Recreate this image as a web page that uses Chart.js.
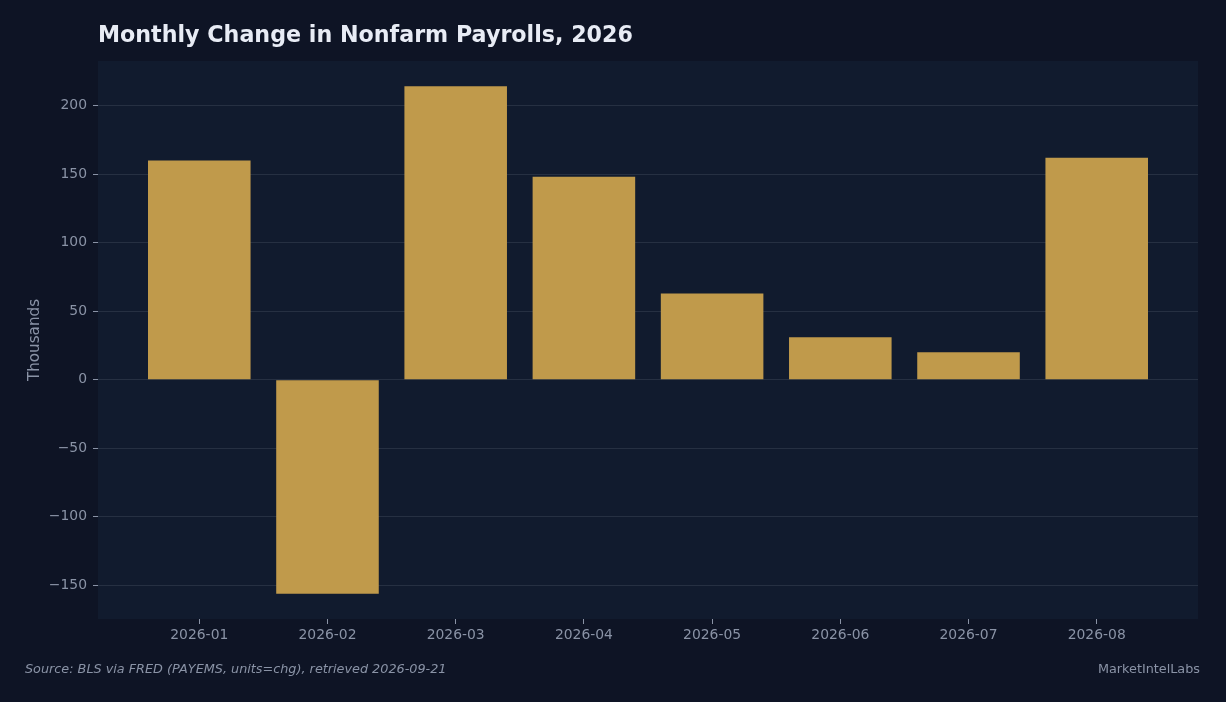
<!DOCTYPE html>
<html>
<head>
<meta charset="utf-8">
<script src="https://cdn.jsdelivr.net/npm/chart.js@4"></script>
<style>
  html, body { margin: 0; padding: 0; background: #0e1425; }
  #wrap { position: relative; width: 1226px; height: 702px; overflow: hidden; }
  #myChart { position: absolute; left: 0; top: 0; }
  .txt { position: absolute; font-family: "DejaVu Sans", sans-serif; white-space: nowrap; }
  #title { left: 98px; top: 21px; font-size: 22.2px; font-weight: bold; color: #e8ecf5; }
  #source { left: 25px; top: 661px; font-size: 12.8px; font-style: italic; color: #8a93a6; }
  #brand { right: 26px; top: 661px; font-size: 12.8px; color: #8a93a6; }
</style>
</head>
<body>
<div id="wrap">
  <canvas id="myChart" width="1226" height="702"></canvas>
  <div class="txt" id="title">Monthly Change in Nonfarm Payrolls, 2026</div>
  <div class="txt" id="source">Source: BLS via FRED (PAYEMS, units=chg), retrieved 2026-09-21</div>
  <div class="txt" id="brand">MarketIntelLabs</div>
</div>
<script>
const months = ['2026-01', '2026-02', '2026-03', '2026-04', '2026-05', '2026-06', '2026-07', '2026-08'];
const payrollChange = [160, -156, 214, 148, 63, 31, 20, 162];
const yTicks = [-150, -100, -50, 0, 50, 100, 150, 200];

// paint the plot area background behind bars
const plotBg = {
  id: 'plotBg',
  beforeDraw(chart) {
    const { ctx, chartArea } = chart;
    ctx.save();
    ctx.fillStyle = '#111b2e';
    ctx.fillRect(chartArea.left, chartArea.top, chartArea.right - chartArea.left, chartArea.bottom - chartArea.top);
    ctx.restore();
  }
};

function fmt(v) {
  return v < 0 ? '\u2212' + Math.abs(v) : String(v);
}

const ctx = document.getElementById('myChart').getContext('2d');
const myChart = new Chart(ctx, {
  type: 'bar',
  data: {
    datasets: [{
      label: 'Monthly change',
      data: months.map((m, i) => ({ x: i, y: payrollChange[i] })),
      backgroundColor: '#c09a4b',
      borderWidth: 0,
      inflateAmount: 0,
      barPercentage: 0.8,
      categoryPercentage: 1.0
    }]
  },
  options: {
    responsive: false,
    animation: false,
    layout: { padding: { left: 0, right: 28, top: 61, bottom: 0 } },
    plugins: { legend: { display: false }, title: { display: false }, tooltip: { enabled: false } },
    scales: {
      x: {
        type: 'linear',
        offset: false,
        min: -0.79,
        max: 7.79,
        afterBuildTicks(scale) { scale.ticks = months.map((_, i) => ({ value: i })); },
        afterFit(scale) { scale.height = 83; },
        grid: { offset: false, drawOnChartArea: false, drawTicks: true, tickLength: 5, tickColor: '#8a93a6' },
        border: { display: false },
        ticks: {
          color: '#8a93a6',
          font: { family: 'DejaVu Sans', size: 13.9 },
          padding: 3,
          maxRotation: 0,
          autoSkip: false,
          callback: (v) => months[v]
        }
      },
      y: {
        min: -174.5,
        max: 232.5,
        afterBuildTicks(scale) { scale.ticks = yTicks.map(v => ({ value: v })); },
        afterFit(scale) { scale.width = 98; },
        grid: { color: '#263042', lineWidth: 1, drawTicks: true, tickLength: 5, tickColor: '#8a93a6' },
        border: { display: false },
        title: {
          display: true,
          text: 'Thousands',
          color: '#8a93a6',
          font: { family: 'DejaVu Sans', size: 15.2 },
          padding: { top: 26, bottom: 0 }
        },
        ticks: {
          color: '#8a93a6',
          font: { family: 'DejaVu Sans', size: 13.9 },
          padding: 6,
          callback: (v) => fmt(v)
        }
      }
    }
  },
  plugins: [plotBg]
});
</script>
</body>
</html>
